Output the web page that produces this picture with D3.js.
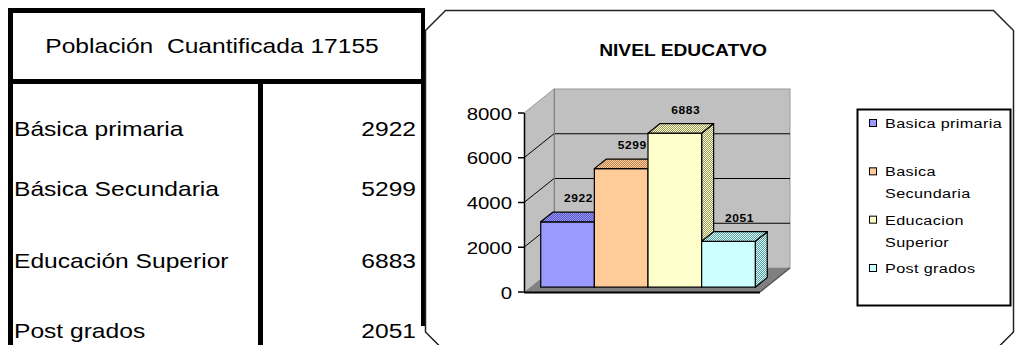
<!DOCTYPE html>
<html>
<head>
<meta charset="utf-8">
<script src="https://cdn.jsdelivr.net/npm/d3@7"></script>
<style>
  body { margin:0; background:#fff; }
  svg { display:block; }
  text { font-family: "Liberation Sans", Arial, sans-serif; fill:#000; white-space: pre; }
</style>
</head>
<body>
<svg id="chart" width="1015" height="345"></svg>
<script>
// data
const total = 17155
const categories = ['Básica primaria', 'Básica Secundaria', 'Educación Superior', 'Post grados']
const values = [2922, 5299, 6883, 2051]
const legendLabels = [['Basica primaria'], ['Basica', 'Secundaria'], ['Educacion', 'Superior'], ['Post grados']]
const yTicks = [0, 2000, 4000, 6000, 8000]
const frontColors = ['#9999ff', '#ffcc99', '#ffffcc', '#ccffff']
const darkColors = ['#5555bb', '#bb8855', '#999966', '#669999']

const W = 1015, H = 345
const stretch = 1.2   // the source picture is wider than normal text
const svg = d3.select('#chart')

// simple helper for horizontally stretched text
const stext = (g, x, y, str, size, anchor, weight) => g.append('text')
    .attr('transform', `translate(${x},${y}) scale(${stretch},1)`)
    .attr('text-anchor', anchor || 'start')
    .attr('font-size', size)
    .attr('font-weight', weight || 'normal')
    .text(str)

// ---------- left table ----------
const table = svg.append('g')
const thick = 5
table.append('rect').attr('x', 8).attr('y', 8).attr('width', 417).attr('height', thick)
table.append('rect').attr('x', 8).attr('y', 8).attr('width', thick).attr('height', H)
table.append('rect').attr('x', 421).attr('y', 8).attr('width', thick - 1).attr('height', 318)
table.append('rect').attr('x', 8).attr('y', 79).attr('width', 417).attr('height', thick)
table.append('rect').attr('x', 258).attr('y', 79).attr('width', thick).attr('height', H)

stext(table, 212, 53, 'Población\u00a0 Cuantificada ' + total, 20.5, 'middle')

const rowY = d3.scaleOrdinal(categories, [136, 196, 268, 338])
categories.forEach((c, i) => {
  stext(table, 14, rowY(c), c, 20.5, 'start')
  stext(table, 416, rowY(c), values[i], 20.5, 'end')
})

// ---------- chart frame ----------
const fx0 = 425.5, fy0 = 10.5, fx1 = 1013.5, fy1 = 352, cr = 20
svg.append('path')
  .attr('d', `M${fx0},${fy0 + cr} L${fx0 + cr},${fy0} L${fx1 - cr},${fy0} L${fx1},${fy0 + cr} L${fx1},${fy1 - cr} L${fx1 - cr},${fy1} L${fx0 + cr},${fy1} L${fx0},${fy1 - cr} Z`)
  .attr('fill', '#fff').attr('stroke', '#222').attr('stroke-width', 1.5)

stext(svg, 683, 56, 'NIVEL EDUCATVO', 16, 'middle', 'bold')

// ---------- 3d column plot ----------
const defs = svg.append('defs')
darkColors.forEach((c, i) => {
  const p = defs.append('pattern').attr('id', 'dith' + i)
    .attr('width', 2).attr('height', 2).attr('patternUnits', 'userSpaceOnUse')
  p.append('rect').attr('width', 2).attr('height', 2).attr('fill', c)
  p.append('rect').attr('width', 1).attr('height', 1).attr('fill', frontColors[i])
  p.append('rect').attr('x', 1).attr('y', 1).attr('width', 1).attr('height', 1).attr('fill', frontColors[i])
})

const y = d3.scaleLinear().domain([0, 8000]).range([292, 113])
const x = d3.scaleBand().domain(categories).range([524, 760]).paddingInner(0).paddingOuter(0.2)
const D = { dx: 30, dy: -24 }      // wall depth
const f0 = 0.2, f1 = 0.6          // bar front/back depth fraction
const plot = svg.append('g')

const xL = x.range()[0], xR = x.range()[1]
// side wall
plot.append('path')
  .attr('d', `M${xL},${y(8000)} L${xL + D.dx},${y(8000) + D.dy} L${xL + D.dx},${y(0) + D.dy} L${xL},${y(0)} Z`)
  .attr('fill', '#c0c0c0')
// back wall
plot.append('rect')
  .attr('x', xL + D.dx).attr('y', y(8000) + D.dy)
  .attr('width', xR - xL).attr('height', y(0) - y(8000))
  .attr('fill', '#c0c0c0').attr('stroke', '#999').attr('stroke-width', 1)
// gridlines
plot.selectAll('.grid').data(yTicks.filter(d => d > 0 && d < 8000)).enter()
  .append('path').attr('class', 'grid')
  .attr('d', d => `M${xL},${y(d)} L${xL + D.dx},${y(d) + D.dy} L${xR + D.dx},${y(d) + D.dy}`)
  .attr('fill', 'none').attr('stroke', '#000').attr('stroke-width', 1)
plot.append('line')
  .attr('x1', xL + D.dx + 0.5).attr('x2', xL + D.dx + 0.5)
  .attr('y1', y(8000) + D.dy).attr('y2', y(0) + D.dy)
  .attr('stroke', '#808080')
plot.append('line')
  .attr('x1', xL).attr('y1', y(8000)).attr('x2', xL + D.dx).attr('y2', y(8000) + D.dy)
  .attr('stroke', '#999')
// floor
plot.append('path')
  .attr('d', `M${xL},${y(0)} L${xR},${y(0)} L${xR + D.dx},${y(0) + D.dy} L${xL + D.dx},${y(0) + D.dy} Z`)
  .attr('fill', '#808080')
plot.append('line')
  .attr('x1', xL).attr('x2', xR).attr('y1', y(0) + 0.5).attr('y2', y(0) + 0.5)
  .attr('stroke', '#000').attr('stroke-width', 2)
plot.append('line')
  .attr('x1', xR).attr('y1', y(0)).attr('x2', xR + D.dx).attr('y2', y(0) + D.dy)
  .attr('stroke', '#555').attr('stroke-width', 1.5)

// axis
plot.append('line')
  .attr('x1', xL + 0.5).attr('x2', xL + 0.5).attr('y1', y(8000)).attr('y2', y(0))
  .attr('stroke', '#000').attr('stroke-width', 1.5)
plot.selectAll('.tick').data(yTicks).enter()
  .append('line').attr('class', 'tick')
  .attr('x1', xL - 6).attr('x2', xL).attr('y1', d => y(d)).attr('y2', d => y(d))
  .attr('stroke', '#000').attr('stroke-width', 1.5)
yTicks.forEach(t => stext(plot, xL - 12, y(t) + 6.5, t, 17, 'end'))

// bars
const ax = D.dx * f0, ay = D.dy * f0
const bx = D.dx * f1, by = D.dy * f1
categories.forEach((c, i) => {
  const x0 = x(c) + ax, x1 = x(c) + x.bandwidth() + ax
  const yt = y(values[i]) + ay, yb = y(0) + ay
  const ddx = bx - ax, ddy = by - ay
  const g = plot.append('g').attr('stroke', '#000').attr('stroke-width', 1.2).attr('stroke-linejoin', 'round')
  g.append('path')
    .attr('d', `M${x1},${yt} L${x1 + ddx},${yt + ddy} L${x1 + ddx},${yb + ddy} L${x1},${yb} Z`)
    .attr('fill', `url(#dith${i})`)
  g.append('rect').attr('x', x0).attr('y', yt).attr('width', x1 - x0).attr('height', yb - yt)
    .attr('fill', frontColors[i])
  g.append('path')
    .attr('d', `M${x0},${yt} L${x0 + ddx},${yt + ddy} L${x1 + ddx},${yt + ddy} L${x1},${yt} Z`)
    .attr('fill', `url(#dith${i})`)
  stext(plot, (x0 + x1) / 2 + ddx / 2 + 5, yt + ddy - 10, values[i], 10, 'middle', 'bold')
    .attr('letter-spacing', 0.5)
})

// legend
const lg = svg.append('g')
lg.append('rect').attr('x', 857.5).attr('y', 109.5).attr('width', 153).attr('height', 196)
  .attr('fill', '#fff').attr('stroke', '#000').attr('stroke-width', 2)
const ly = d3.scaleLinear().domain([0, 3]).range([123, 268])
legendLabels.forEach((lines, i) => {
  lg.append('rect').attr('x', 869.5).attr('y', ly(i) - 3.5).attr('width', 7).attr('height', 7)
    .attr('fill', frontColors[i]).attr('stroke', '#000').attr('stroke-width', 1)
  lines.forEach((t, j) => stext(lg, 885, ly(i) + 5 + j * 22, t, 13.5, 'start')
    .attr('letter-spacing', 0.3))
})
</script>
</body>
</html>
